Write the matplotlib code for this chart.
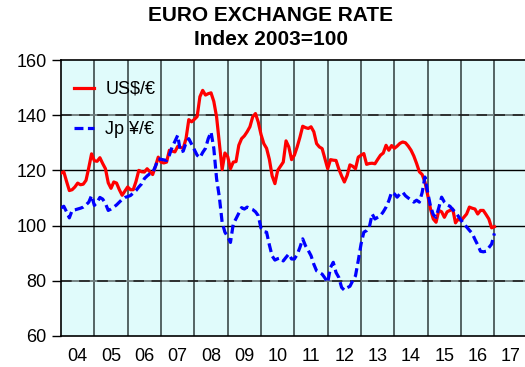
import numpy as np
import matplotlib
matplotlib.use("Agg")
import matplotlib.pyplot as plt

plt.rcParams['font.family'] = ['Liberation Sans', 'DejaVu Sans']

# monthly index values, Jan 2004 .. Jan 2017 (2003 = 100)
usd_eur = [
    119, 119.5, 116, 112.7, 113, 114, 115.4, 114.8, 115, 116.4, 121, 126,
    123.5, 123.3, 124.6, 122.5, 120.6, 115.5, 113.5, 115.8, 115.4, 113, 111, 112.5,
    114, 113, 113, 116, 120, 119.5, 119.4, 120.6, 119.5, 118.5, 121.5, 124.8,
    123, 122.7, 123, 127.3, 127, 126.7, 128.7, 128.3, 128, 131.5, 138.4, 137.6,
    138.5, 139.5, 146.7, 149, 147.3, 147.8, 148.1, 145, 139.4, 129.7, 120.3, 126.3,
    125, 120.6, 123, 123.2, 129.1, 131.5, 132.5, 134, 135.8, 139.4, 140.6, 137.5,
    133, 129.7, 128, 124, 118, 115.2, 120, 121.5, 123, 130.7, 128.5, 123.9,
    125.5, 128.5, 132, 136, 135.5, 135.2, 135.8, 134, 129.7, 128.5, 127.9, 124.2,
    120.6, 123.9, 123.7, 123.6, 120.5, 118, 115.8, 118.2, 122, 121.5, 120.6, 124.8,
    125.5, 126.1, 122.2, 122.5, 122.6, 122.4, 124, 125.5, 126.3, 129.1, 127.3, 129,
    128, 128.8, 129.8, 130.3, 130, 128.8, 127.3, 125.2, 122.5, 119.5, 118.5, 115.8,
    111, 106, 102.4, 101.2, 105.5, 105, 103, 105, 105.5, 106, 101, 102.4,
    101.8, 103, 104.2, 106.7, 106.3, 106, 104.2, 105.5, 105.5, 104, 102.4, 99.2,
    99.6,
]
jpy_eur = [
    106.4, 107, 105, 102.8, 105.5, 105.7, 106, 106.3, 106.7, 107.5, 108.5, 110.9,
    107.3, 108.5, 110.2, 109.6, 108, 105.5, 106, 106.7, 107.5, 108.5, 109.5, 110.2,
    110.5, 110.9, 111.8, 112.7, 114, 115.1, 117, 118, 118.8, 119.2, 121.5, 124.2,
    124, 123.8, 123.6, 125.5, 128.5, 130.5, 132.7, 126.7, 127, 130, 131.5, 129.5,
    127.5, 125.5, 124.6, 126.5, 128, 131.5, 133.9, 128, 117, 110.3, 101.2, 97.6,
    96, 93.9, 100.6, 102.5, 104.5, 106.5, 106, 106.7, 106.2, 105.8, 105, 103.6,
    99, 97.8, 97.6, 93, 89, 87.5, 88, 88.3, 87.2, 88.5, 89.7, 87.9,
    87.9, 89.5, 92.1, 95.2, 92.7, 91, 89.1, 86, 83.6, 83, 82.4, 81,
    79.4, 84.8, 86.7, 83, 81.2, 77.6, 76.6, 77.5, 78, 80, 81.8, 87.3,
    93.3, 97.6, 98.2, 99.5, 104.2, 102.4, 103, 103.6, 105, 106.7, 109, 112.1,
    111.5, 110.3, 111.5, 112.1, 110.8, 110, 109.3, 108.5, 109.2, 108.5, 112, 117.6,
    112, 107, 104, 103, 106.5, 110.3, 108.5, 107.5, 107, 105.8, 104.8, 103.4,
    102, 100.6, 99.5, 98.3, 97.2, 95, 93, 90.7, 90.5, 90.7, 92, 93.3,
    97.2,
]
year_labels = ['04', '05', '06', '07', '08', '09', '10', '11', '12', '13', '14', '15', '16', '17']

start_year = 2004
dates = start_year + np.arange(len(usd_eur)) / 12.0

fig = plt.figure(figsize=(5.25, 3.67), dpi=100)
ax = fig.add_axes([0.1162, 0.0845, 0.889, 0.752])
ax.set_facecolor('#e0fbfb')

ax.set_xlim(start_year, start_year + len(year_labels))
ax.set_ylim(60, 160)

# year boundaries
for yr in range(start_year + 1, start_year + len(year_labels)):
    ax.axvline(yr, color='#2f3b3b', lw=1.1, zorder=1)
# horizontal grid: solid at 100/120, dashed at 80/140
for v in (100, 120):
    ax.axhline(v, color='black', lw=1.0, zorder=1)
for v in (80, 140):
    ax.axhline(v, color='#1e1e1e', lw=1.3, ls=(0, (6, 4)), gapcolor='#6d7b7b', zorder=1)

ax.plot(dates, usd_eur, color='#ff0000', lw=2.3, label='US$/€', zorder=3)
ax.plot(dates, jpy_eur, color='#0000ff', lw=2.3, ls=(0, (2.8, 1.4)), label='Jp ¥/€', zorder=3)

ax.set_yticks([60, 80, 100, 120, 140, 160])
ax.tick_params(axis='y', length=6.5, width=1.0, direction='out', labelsize=13, pad=4)
ax.set_xticks([])
ax.set_xticks(np.arange(len(year_labels)) + start_year + 0.5, labels=year_labels, minor=True)
ax.tick_params(axis='x', which='minor', length=0, labelsize=13, pad=9)

for side in ('top', 'bottom', 'left', 'right'):
    ax.spines[side].set_linewidth(1.2)
    ax.spines[side].set_color('black')
ax.spines['right'].set_visible(False)

ax.legend(loc='upper left', frameon=False, fontsize=13, handlelength=1.15,
          handletextpad=0.6, labelspacing=1.3, bbox_to_anchor=(0.0, 0.97),
          borderaxespad=0.3)

fig.text(0.516, 0.958, 'EURO EXCHANGE RATE', ha='center', va='center',
         fontsize=15, fontweight='bold')
fig.text(0.516, 0.893, 'Index 2003=100', ha='center', va='center',
         fontsize=15, fontweight='bold')

fig.savefig('out.png', dpi=100)
